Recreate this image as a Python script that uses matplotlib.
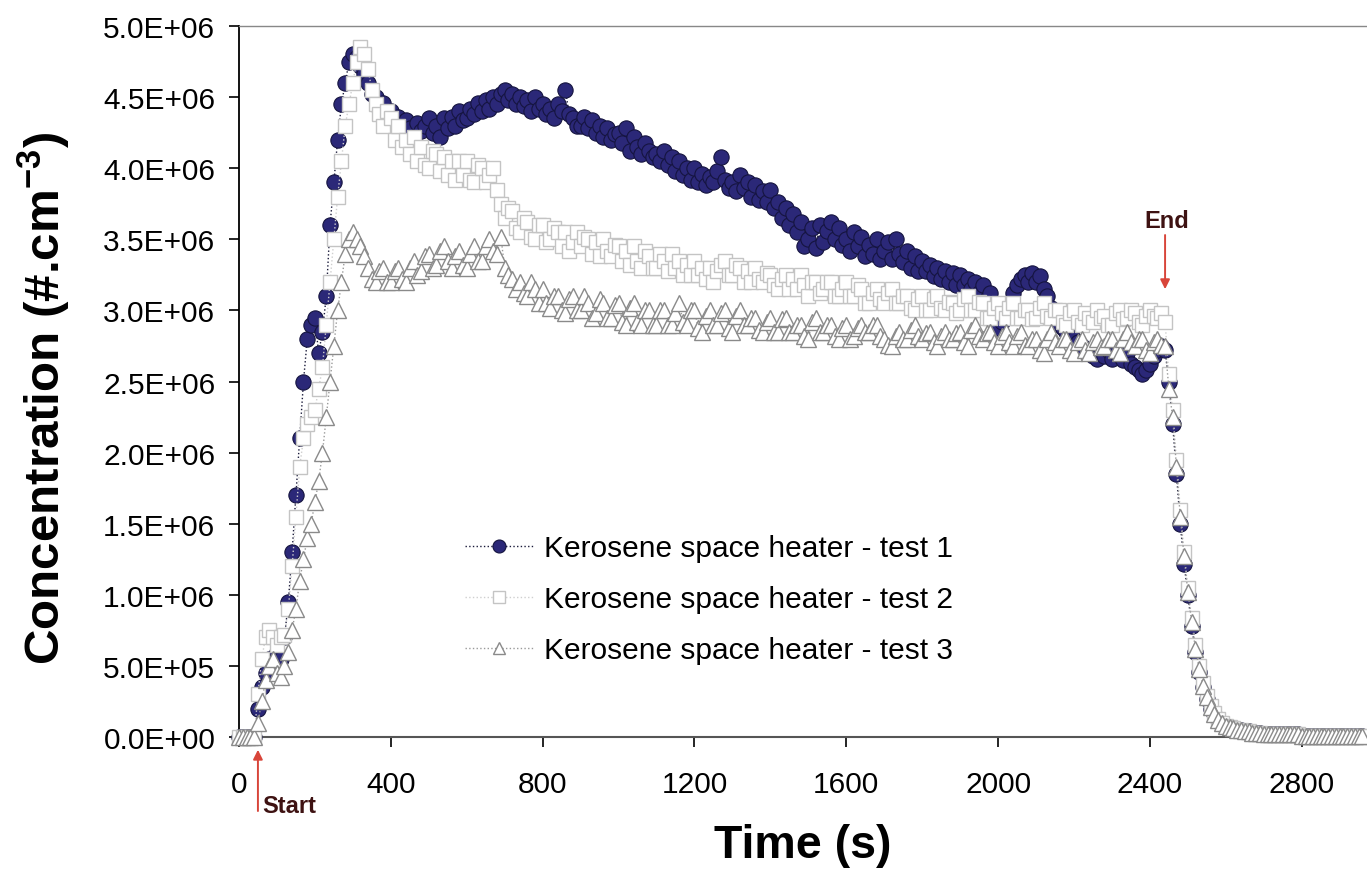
import numpy as np
import matplotlib
matplotlib.use("Agg")
import matplotlib.pyplot as plt
from matplotlib.ticker import FuncFormatter, MultipleLocator

plt.rcParams["font.family"] = ["Liberation Sans", "DejaVu Sans"]
plt.rcParams["mathtext.fontset"] = "custom"
plt.rcParams["mathtext.bf"] = "Liberation Sans:bold"
plt.rcParams["mathtext.rm"] = "Liberation Sans:bold"

# ---- data (concentration in 1e6 #/cm3, one reading every 10 s) ----
time_s = np.arange(0, 2961, 10)

tail = [
    0.08, 0.07, 0.06, 0.05, 0.05, 0.04, 0.04, 0.03, 0.03, 0.03,
    0.02, 0.02, 0.02, 0.02, 0.02, 0.02, 0.02, 0.02, 0.02, 0.02,
    0.01, 0.01, 0.01, 0.01, 0.01, 0.01, 0.01, 0.01, 0.01, 0.01,
    0.01, 0.01, 0.01, 0.01, 0.01, 0.01, 0.01,
]

test1 = [
    0, 0, 0, 0, 0, 0.2, 0.35, 0.45, 0.55, 0.5,
    0.6, 0.55, 0.7, 0.95, 1.3, 1.7, 2.1, 2.5, 2.8, 2.9,
    2.95, 2.7, 2.85, 3.1, 3.6, 3.9, 4.2, 4.45, 4.6, 4.75,
    4.8, 4.78, 4.72, 4.66, 4.6, 4.52, 4.5, 4.42, 4.46, 4.38,
    4.4, 4.3, 4.36, 4.26, 4.34, 4.28, 4.22, 4.32, 4.26, 4.3,
    4.35, 4.25, 4.3, 4.22, 4.35, 4.28, 4.36, 4.3, 4.4, 4.34,
    4.35, 4.42, 4.38, 4.46, 4.4, 4.48, 4.42, 4.5, 4.45, 4.52,
    4.55, 4.48, 4.52, 4.45, 4.5, 4.44, 4.48, 4.4, 4.5, 4.42,
    4.45, 4.38, 4.42, 4.35, 4.45, 4.4, 4.55, 4.38, 4.35, 4.3,
    4.3, 4.36, 4.28, 4.34, 4.25, 4.3, 4.22, 4.28, 4.2, 4.24,
    4.25, 4.18, 4.28, 4.12, 4.22, 4.15, 4.1, 4.18, 4.12, 4.08,
    4.1, 4.05, 4.12, 4.02, 4.08, 3.98, 4.05, 3.95, 4.0, 3.92,
    4.0, 3.9, 3.96, 3.88, 3.94, 3.9, 3.98, 4.08, 3.92, 3.86,
    3.9, 3.84, 3.95, 3.86, 3.9, 3.8, 3.88, 3.78, 3.84, 3.76,
    3.85, 3.72, 3.76, 3.65, 3.72, 3.6, 3.68, 3.55, 3.62, 3.45,
    3.5, 3.58, 3.44, 3.6, 3.48, 3.56, 3.62, 3.5, 3.58, 3.46,
    3.5, 3.42, 3.55, 3.45, 3.52, 3.38, 3.46, 3.4, 3.5, 3.36,
    3.42, 3.48, 3.36, 3.5, 3.4, 3.34, 3.42, 3.3, 3.38, 3.28,
    3.35, 3.28, 3.32, 3.24, 3.3, 3.22, 3.28, 3.2, 3.26, 3.18,
    3.25, 3.18, 3.22, 3.15, 3.2, 3.12, 3.18, 3.08, 3.12, 3.02,
    2.88, 2.92, 2.98, 3.05, 3.12, 3.18, 3.22, 3.25, 3.2, 3.26,
    3.2, 3.24, 3.15, 3.1, 3.02, 2.95, 2.9, 2.88, 2.85, 2.82,
    2.8, 2.78, 2.75, 2.72, 2.7, 2.68, 2.66, 2.7, 2.68, 2.72,
    2.66, 2.7, 2.68, 2.65, 2.7, 2.62, 2.6, 2.58, 2.55, 2.58,
    2.62, 2.68, 2.72, 2.75, 2.72, 2.5, 2.2, 1.85, 1.5, 1.22,
    1.0, 0.78, 0.6, 0.46, 0.35, 0.27, 0.2, 0.16, 0.12, 0.1,
] + tail

test2 = [
    0, 0, 0, 0, 0, 0.3, 0.55, 0.7, 0.75, 0.7,
    0.65, 0.7, 0.72, 0.9, 1.2, 1.55, 1.9, 2.1, 2.2, 2.25,
    2.3, 2.45, 2.6, 2.9, 3.2, 3.5, 3.8, 4.05, 4.3, 4.45,
    4.6, 4.75, 4.85, 4.8, 4.7, 4.55, 4.45, 4.38, 4.3, 4.4,
    4.35, 4.2, 4.3, 4.15, 4.2, 4.1, 4.22, 4.05, 4.15, 4.02,
    4.0, 4.12, 4.1, 3.98, 4.08, 3.95, 4.05, 3.92, 4.05, 3.95,
    4.05, 3.92, 3.9, 4.02, 4.0, 3.9, 3.95, 4.0, 3.85, 3.75,
    3.65, 3.72, 3.7, 3.58, 3.55, 3.65, 3.62, 3.52, 3.5, 3.6,
    3.6, 3.48, 3.5, 3.58, 3.55, 3.45, 3.55, 3.42, 3.48, 3.55,
    3.45, 3.52, 3.5, 3.4, 3.48, 3.38, 3.5, 3.42, 3.38, 3.46,
    3.45, 3.35, 3.42, 3.32, 3.45, 3.35, 3.3, 3.42, 3.38, 3.3,
    3.3, 3.4, 3.35, 3.28, 3.4, 3.3, 3.35, 3.25, 3.32, 3.25,
    3.35, 3.25, 3.3, 3.22, 3.3, 3.2, 3.28, 3.32, 3.35, 3.25,
    3.25, 3.32, 3.3, 3.2, 3.28, 3.2, 3.3, 3.22, 3.2, 3.26,
    3.25, 3.18, 3.15, 3.22, 3.25, 3.15, 3.22, 3.15, 3.25, 3.18,
    3.1, 3.2, 3.2, 3.12, 3.15, 3.2, 3.2, 3.1, 3.1, 3.15,
    3.2, 3.1, 3.1, 3.18, 3.15, 3.05, 3.05, 3.12, 3.15, 3.08,
    3.05, 3.12, 3.15, 3.05, 3.05, 3.1, 3.1, 3.02, 3.0, 3.08,
    3.1, 3.0, 3.0, 3.08, 3.1, 3.02, 3.0, 3.06, 3.05, 2.98,
    3.0, 3.08, 3.1, 3.0, 3.0, 3.06, 3.05, 2.95, 2.95, 3.02,
    3.05, 2.98, 2.95, 3.02, 3.05, 2.95, 2.95, 3.0, 3.0, 2.94,
    2.95, 3.02, 3.05, 2.96, 2.95, 3.0, 3.0, 2.92, 2.9, 2.98,
    3.0, 2.92, 2.9, 2.98, 2.95, 2.92, 3.0, 2.95, 2.96, 2.9,
    2.9, 2.98, 3.0, 2.94, 2.95, 3.0, 2.98, 2.92, 2.9, 2.96,
    3.0, 2.96, 2.95, 2.98, 2.92, 2.55, 2.3, 1.95, 1.6, 1.3,
    1.05, 0.84, 0.65, 0.5, 0.38, 0.29, 0.22, 0.17, 0.13, 0.1,
] + tail

test3 = [
    0, 0, 0, 0, 0, 0.1, 0.25, 0.4, 0.5, 0.55,
    0.45, 0.42, 0.5, 0.6, 0.75, 0.9, 1.1, 1.25, 1.4, 1.5,
    1.65, 1.8, 2.0, 2.25, 2.5, 2.75, 3.0, 3.2, 3.4, 3.5,
    3.55, 3.5, 3.45, 3.38, 3.3, 3.22, 3.2, 3.28, 3.3, 3.2,
    3.2, 3.28, 3.3, 3.22, 3.2, 3.3, 3.35, 3.25, 3.28, 3.38,
    3.4, 3.3, 3.32, 3.42, 3.45, 3.35, 3.3, 3.38, 3.42, 3.32,
    3.3, 3.4, 3.45, 3.35, 3.35, 3.45, 3.5, 3.42, 3.4, 3.52,
    3.3, 3.25, 3.22, 3.15, 3.2, 3.12, 3.1, 3.2, 3.15, 3.05,
    3.15, 3.05, 3.02, 3.1, 3.1, 3.0, 2.98, 3.08, 3.1, 3.0,
    3.0, 3.1, 3.05, 2.95, 2.98, 3.08, 3.05, 2.95, 2.95, 3.04,
    3.05, 2.92, 2.9, 3.02, 3.05, 2.92, 2.9, 3.0, 3.0, 2.9,
    2.9, 3.0, 3.0, 2.9, 2.9, 2.98, 3.05, 2.92, 2.9, 3.0,
    3.0, 2.88, 2.85, 2.96, 3.0, 2.9, 2.9, 2.98, 3.0, 2.88,
    2.85, 2.96, 3.0, 2.9, 2.9, 2.95, 2.95, 2.86, 2.85, 2.92,
    2.95, 2.85, 2.85, 2.94, 2.95, 2.85, 2.85, 2.9, 2.9, 2.82,
    2.8, 2.92, 2.95, 2.85, 2.85, 2.9, 2.9, 2.82, 2.8, 2.88,
    2.9, 2.8, 2.82, 2.88, 2.9, 2.85, 2.85, 2.9, 2.9, 2.82,
    2.8, 2.76, 2.75, 2.82, 2.85, 2.8, 2.8, 2.86, 2.9, 2.82,
    2.8, 2.84, 2.85, 2.78, 2.75, 2.82, 2.85, 2.8, 2.8, 2.84,
    2.85, 2.78, 2.75, 2.86, 2.9, 2.82, 2.8, 2.84, 2.85, 2.78,
    2.75, 2.82, 2.85, 2.78, 2.75, 2.82, 2.85, 2.76, 2.75, 2.8,
    2.8, 2.72, 2.7, 2.8, 2.85, 2.78, 2.75, 2.8, 2.8, 2.72,
    2.7, 2.78, 2.8, 2.72, 2.7, 2.78, 2.8, 2.74, 2.75, 2.8,
    2.8, 2.72, 2.7, 2.8, 2.85, 2.78, 2.75, 2.8, 2.8, 2.72,
    2.7, 2.78, 2.8, 2.76, 2.75, 2.45, 2.25, 1.9, 1.55, 1.27,
    1.02, 0.81, 0.62, 0.48, 0.36, 0.28, 0.21, 0.16, 0.12, 0.1,
] + tail

labels = [
    "Kerosene space heater - test 1",
    "Kerosene space heater - test 2",
    "Kerosene space heater - test 3",
]
start_time = 50
end_time = 2440

# ---- figure ----
fig = plt.figure(figsize=(13.67, 8.70), dpi=100)
ax = fig.add_axes([0.1748, 0.1517, 0.8252, 0.8172])

scale = 1e6
ax.plot(time_s, np.array(test1) * scale, linestyle=":", color="#1a1a3a",
        linewidth=1.0, marker="o", markersize=11, markerfacecolor="#2b2878",
        markeredgecolor="#15143f", markeredgewidth=0.8, label=labels[0],
        clip_on=False, zorder=3)
ax.plot(time_s, np.array(test2) * scale, linestyle=":", color="#cfcfcf",
        linewidth=1.0, marker="s", markersize=9.5, markerfacecolor="white",
        markeredgecolor="#c4c4c4", markeredgewidth=1.0, label=labels[1],
        clip_on=False, zorder=4)
ax.plot(time_s, np.array(test3) * scale, linestyle=":", color="#9a9a9a",
        linewidth=1.0, marker="^", markersize=11, markerfacecolor="white",
        markeredgecolor="#8a8a8a", markeredgewidth=1.0, label=labels[2],
        clip_on=False, zorder=5)

ax.set_xlim(0, 2972)
ax.set_ylim(0, 5e6)
ax.xaxis.set_major_locator(MultipleLocator(400))
ax.yaxis.set_major_locator(MultipleLocator(5e5))
ax.yaxis.set_major_formatter(FuncFormatter(lambda v, p: f"{v:.1E}"))
ax.tick_params(axis="both", direction="out", length=7, width=1.2,
               labelsize=21.5)
ax.tick_params(axis="y", pad=10)
ax.tick_params(axis="x", pad=17)

ax.spines["right"].set_visible(False)
ax.spines["left"].set_color("black")
ax.spines["left"].set_linewidth(1.3)
ax.spines["bottom"].set_color("#555555")
ax.spines["bottom"].set_linewidth(1.5)
ax.spines["top"].set_color("#888888")
ax.spines["top"].set_linewidth(1.0)

ax.set_xlabel("Time (s)", fontsize=33.5, fontweight="bold", labelpad=18)
ax.set_ylabel(r"Concentration (#.cm$^{\mathbf{-3}}$)", fontsize=35.5,
              fontweight="bold", labelpad=22)
ax.yaxis.label.set_y(0.478)

leg = ax.legend(loc="upper left", bbox_to_anchor=(0.2, 0.285), frameon=False,
                fontsize=21.5, handlelength=2.3, handletextpad=0.35,
                labelspacing=0.77, borderpad=0, borderaxespad=0,
                markerscale=0.85)

# start / end markers
arrow_kw = dict(arrowstyle="-|>", color="#d8453a", lw=1.4, mutation_scale=14)
ax.annotate("", xy=(start_time, -0.07e6), xytext=(start_time, -0.54e6),
            arrowprops=arrow_kw, annotation_clip=False)
ax.text(start_time + 11, -0.48e6, "Start", fontsize=17, fontweight="bold",
        color="#3e1212", ha="left", va="center", clip_on=False)
ax.annotate("", xy=(end_time, 3.13e6), xytext=(end_time, 3.55e6),
            arrowprops=arrow_kw, annotation_clip=False, zorder=6)
ax.text(end_time + 4, 3.63e6, "End", fontsize=17, fontweight="bold",
        color="#3e1212", ha="center", va="center")

fig.savefig("out.png", dpi=100)
